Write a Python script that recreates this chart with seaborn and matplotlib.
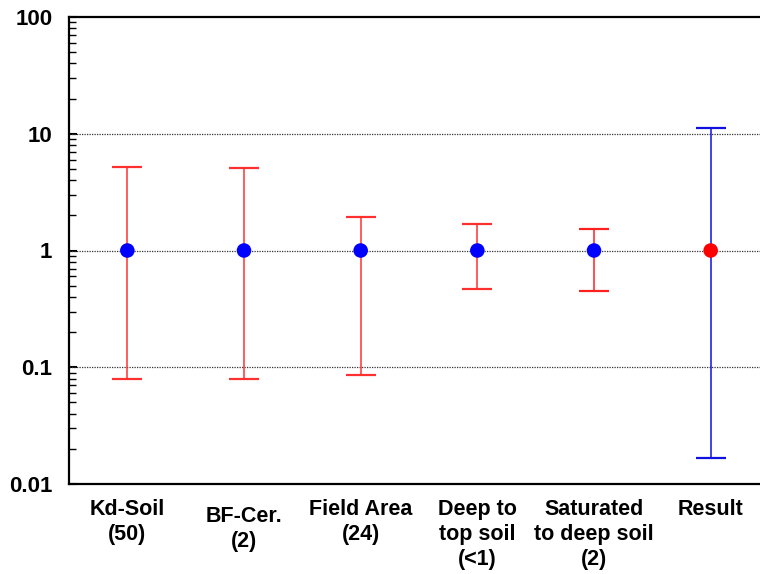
import numpy as np
import pandas as pd
import matplotlib
matplotlib.use("Agg")
import matplotlib.pyplot as plt
import matplotlib.ticker as mticker
import seaborn as sns

categories = ["Kd-Soil\n(50)", "BF-Cer.\n(2)", "Field Area\n(24)", "Deep to\ntop soil\n(<1)",
              "Saturated\nto deep soil\n(2)", "Result"]
central = [1.0, 1.0, 1.0, 1.0, 1.0, 1.0]
upper = [5.15, 5.1, 1.92, 1.67, 1.54, 11.2]
lower = [0.080, 0.080, 0.085, 0.47, 0.45, 0.0168]
bar_colors = ["#ff3030", "#ff3030", "#ff3030", "#ff3030", "#ff2020", "#1010e0"]
point_colors = ["blue", "blue", "blue", "blue", "blue", "red"]

sns.set_style("white")
plt.rcParams["font.family"] = ["Liberation Sans", "DejaVu Sans"]
plt.rcParams["text.color"] = "black"
plt.rcParams["xtick.color"] = "black"
plt.rcParams["ytick.color"] = "black"
plt.rcParams["xtick.labelcolor"] = "black"
plt.rcParams["ytick.labelcolor"] = "black"

df = pd.DataFrame({"cat": categories, "x": np.arange(len(categories)), "y": central,
                   "lo": lower, "hi": upper})

fig = plt.figure(figsize=(7.6, 5.74), dpi=100)
ax = fig.add_axes([69/760, 1-484/574, (769-69)/760, (484-17)/574])

for i, row in df.iterrows():
    ax.errorbar(row["x"], row["y"],
                yerr=[[row["y"] - row["lo"]], [row["hi"] - row["y"]]],
                fmt="none", ecolor=bar_colors[i], elinewidth=1.1, capsize=11, capthick=1.6,
                zorder=2)

sns.scatterplot(data=df, x="x", y="y", hue="cat", palette=point_colors, s=110,
                edgecolor="none", legend=False, ax=ax, zorder=3)

ax.set_yscale("log")
ax.set_ylim(0.01, 100)
ax.set_xlim(-0.5, 5.5)
for g in [0.1, 1, 10]:
    ax.axhline(g, color="#333333", lw=0.9, ls=(0, (1, 1)), zorder=1)

ax.set_xticks(df["x"])
ax.set_xticklabels(categories, fontsize=15.5, fontweight="bold", linespacing=1.25, color="black")
ax.tick_params(axis="x", length=0, pad=11)
ax.xaxis.get_major_ticks()[1].set_pad(15.5)

ax.yaxis.set_major_locator(mticker.LogLocator(base=10, numticks=10))
ax.yaxis.set_minor_locator(mticker.LogLocator(base=10, subs=np.arange(2, 10), numticks=20))
ax.yaxis.set_major_formatter(mticker.FuncFormatter(lambda v, p: f"{v:g}"))
ax.yaxis.set_minor_formatter(mticker.NullFormatter())
ax.tick_params(axis="y", which="major", direction="in", length=6, width=1.5, labelsize=16, pad=12,
               left=True, colors="black")
ax.tick_params(axis="y", which="minor", direction="in", length=5, width=1.0, left=True, colors="black")
for lab in ax.get_yticklabels():
    lab.set_fontweight("bold")

ax.set_xlabel("")
ax.set_ylabel("")
for side in ["left", "bottom", "top"]:
    ax.spines[side].set_visible(True)
    ax.spines[side].set_color("black")
    ax.spines[side].set_linewidth(1.6)
ax.spines["right"].set_visible(False)

fig.savefig("out.png", dpi=100)
